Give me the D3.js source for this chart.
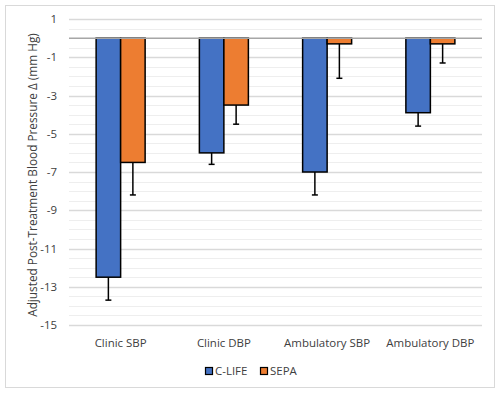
<!DOCTYPE html>
<html><head><meta charset="utf-8">
<script src="https://cdn.jsdelivr.net/npm/d3@7"></script>
<style>body{margin:0;background:#fff}svg{display:block}</style>
</head><body>
<svg id="c" width="500" height="394"></svg>
<script>
const categories = ["Clinic SBP", "Clinic DBP", "Ambulatory SBP", "Ambulatory DBP"];
const seriesNames = ["C-LIFE", "SEPA"];
const clife = [-12.5, -6.0, -7.0, -3.9];
const clifeErr = [-13.7, -6.6, -8.2, -4.6];
const sepa = [-6.5, -3.5, -0.3, -0.3];
const sepaErr = [-8.2, -4.5, -2.1, -1.3];
const yTicks = [1, -1, -3, -5, -7, -9, -11, -13, -15];
const colors = ["#4472C4", "#ED7D31"];
const yTitle = "Adjusted Post-Treatment Blood Pressure \u0394 (mm Hg)";

const font = "'Open Sans', sans-serif";
const svg = d3.select("#c");
svg.append("rect").attr("x", 5.5).attr("y", 5.5).attr("width", 489).attr("height", 382)
  .attr("fill", "#fff").attr("stroke", "#d9d9d9");

// measure font size so that a string reaches a given width
function fitSize(str, width) {
  const t = svg.append("text").attr("font-family", font).attr("font-size", 20).text(str);
  const w = t.node().getComputedTextLength();
  t.remove();
  return 20 * width / w;
}
const labSize = fitSize("Clinic SBP", 52);
const titleSize = fitSize(yTitle, 284);

const m = {l: 69, r: 482, t: 19, b: 325};
const x = d3.scaleBand().domain(categories).range([m.l, m.r]);
const y = d3.scaleLinear().domain([-15, 1]).range([m.b, m.t]);

// gridlines
const g = svg.append("g");
g.selectAll("line.minor").data(d3.range(-15, 1.01, 0.5)).join("line")
  .attr("x1", m.l).attr("x2", m.r)
  .attr("y1", d => Math.round(y(d)) + 0.5).attr("y2", d => Math.round(y(d)) + 0.5)
  .attr("stroke", d => yTicks.includes(d) ? "#d9d9d9" : "#eeeeee").attr("stroke-width", d => yTicks.includes(d) ? 1.3 : 1);

// y tick labels
svg.append("g").selectAll("text").data(yTicks).join("text")
  .attr("x", 57).attr("y", d => y(d)).attr("dy", "0.35em").attr("text-anchor", "end")
  .attr("font-family", font).attr("font-size", labSize).attr("fill", "#404040").text(d => d);

// y title
svg.append("text").attr("transform", `translate(37,175) rotate(-90)`)
  .attr("text-anchor", "middle").attr("font-family", font).attr("font-size", titleSize).attr("fill", "#404040")
  .text(yTitle);

const bw = 24.5;
const data = [clife, sepa], errs = [clifeErr, sepaErr];
data.forEach((vals, si) => {
  const gg = svg.append("g");
  gg.selectAll("rect").data(vals).join("rect")
    .attr("x", (d, i) => x(categories[i]) + x.bandwidth() / 2 - bw + si * bw)
    .attr("y", y(0)).attr("width", bw).attr("height", d => y(d) - y(0))
    .attr("fill", colors[si]).attr("stroke", "#000").attr("stroke-width", 1.5);
  gg.selectAll("line.e").data(vals).join("line")
    .attr("x1", (d, i) => x(categories[i]) + x.bandwidth() / 2 - bw / 2 + si * bw)
    .attr("x2", (d, i) => x(categories[i]) + x.bandwidth() / 2 - bw / 2 + si * bw)
    .attr("y1", d => y(d)).attr("y2", (d, i) => y(errs[si][i]))
    .attr("stroke", "#000").attr("stroke-width", 1.5);
  gg.selectAll("line.c").data(vals).join("line")
    .attr("x1", (d, i) => x(categories[i]) + x.bandwidth() / 2 - bw / 2 + si * bw - 3)
    .attr("x2", (d, i) => x(categories[i]) + x.bandwidth() / 2 - bw / 2 + si * bw + 3)
    .attr("y1", (d, i) => y(errs[si][i])).attr("y2", (d, i) => y(errs[si][i]))
    .attr("stroke", "#000").attr("stroke-width", 1.5);
});

// zero axis line
svg.append("line").attr("x1", m.l).attr("x2", m.r).attr("y1", y(0)).attr("y2", y(0))
  .attr("stroke", "#a6a6a6").attr("stroke-width", 1.5);

// category labels
svg.append("g").selectAll("text").data(categories).join("text")
  .attr("x", d => x(d) + x.bandwidth() / 2).attr("y", 347).attr("text-anchor", "middle")
  .attr("font-family", font).attr("font-size", labSize).attr("fill", "#404040").text(d => d);

// legend
const legX = [205, 260];
seriesNames.forEach((n, i) => {
  svg.append("rect").attr("x", legX[i] + 0.5).attr("y", 367.5).attr("width", 7).attr("height", 7)
    .attr("fill", colors[i]).attr("stroke", "#000").attr("stroke-width", 1.2);
  svg.append("text").attr("x", legX[i] + 10).attr("y", 371).attr("dy", "0.35em")
    .attr("font-family", font).attr("font-size", labSize).attr("fill", "#404040").text(n);
});
</script>
</body></html>
